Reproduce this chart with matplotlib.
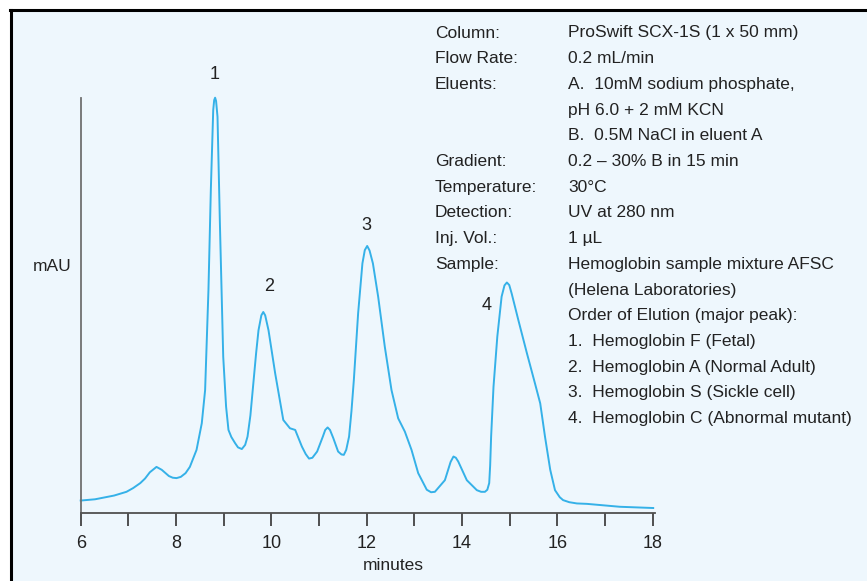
import matplotlib.pyplot as plt
from matplotlib.patches import Rectangle
from matplotlib.lines import Line2D

plt.rcParams['font.family'] = ['Liberation Sans', 'DejaVu Sans']

# chromatogram trace (minutes, relative mAU)
minutes = [6.00, 6.30, 6.70, 6.96, 7.10, 7.25, 7.35, 7.45, 7.59, 7.70, 7.85,
           7.93, 8.01, 8.10, 8.20, 8.29, 8.43, 8.54, 8.61, 8.68, 8.73, 8.78,
           8.80, 8.82, 8.84, 8.87, 8.92, 8.99, 9.05, 9.10, 9.16, 9.24, 9.30,
           9.38, 9.45, 9.50, 9.56, 9.62, 9.68, 9.73, 9.79, 9.83, 9.87, 9.94,
           10.08, 10.25, 10.39, 10.50, 10.64, 10.72, 10.79, 10.86, 10.96,
           11.08, 11.13, 11.18, 11.23, 11.30, 11.40, 11.47, 11.52, 11.57,
           11.63, 11.68, 11.73, 11.82, 11.91, 11.96, 12.01, 12.06, 12.13,
           12.24, 12.38, 12.52, 12.66, 12.80, 12.94, 13.08, 13.26, 13.35,
           13.43, 13.64, 13.76, 13.82, 13.87, 13.92, 14.10, 14.31, 14.40,
           14.48, 14.53, 14.57, 14.59, 14.61, 14.66, 14.74, 14.83, 14.89,
           14.94, 14.99, 15.04, 15.18, 15.36, 15.53, 15.64, 15.74, 15.85,
           15.95, 16.05, 16.12, 16.25, 16.41, 16.62, 17.31, 18.01]
mau = [3.0, 3.3, 4.2, 5.1, 6.0, 7.2, 8.3, 9.8, 11.1, 10.4, 8.9,
       8.5, 8.4, 8.7, 9.6, 11.1, 15.2, 21.6, 29.6, 53.7, 77.8, 97.0,
       99.4, 100.0, 99.2, 95.4, 69.8, 37.6, 25.6, 20.0, 18.3, 16.8, 15.8,
       15.4, 16.4, 18.4, 23.5, 31.0, 38.5, 44.0, 47.6, 48.4, 47.6, 44.0,
       33.6, 22.4, 20.4, 20.0, 16.0, 14.2, 13.1, 13.3, 14.8,
       18.4, 20.0, 20.6, 20.0, 18.0, 14.8, 14.1, 14.0, 15.2,
       18.4, 24.5, 32.0, 48.1, 60.1, 63.3, 64.3, 63.2, 60.1,
       52.1, 40.0, 29.6, 22.8, 19.6, 15.2, 9.6, 5.6, 5.0,
       5.1, 7.9, 12.3, 13.6, 13.3, 12.4, 7.9, 5.5, 5.1,
       5.1, 5.6, 7.2, 11.5, 18.4, 30.4, 42.5, 52.1, 54.8,
       55.5, 54.9, 52.9, 46.5, 38.5, 31.2, 26.4, 18.4, 10.4,
       5.5, 3.8, 3.1, 2.6, 2.3, 2.2, 1.5, 1.2]

peak_labels = ['1', '2', '3', '4']
peak_pos = [(8.82, 105.5), (9.96, 54.5), (12.00, 69.2), (14.52, 50.0)]

info_keys = ['Column:', 'Flow Rate:', 'Eluents:', '', '', 'Gradient:',
             'Temperature:', 'Detection:', 'Inj. Vol.:', 'Sample:', '', '',
             '', '', '', '']
info_vals = ['ProSwift SCX-1S (1 x 50 mm)', '0.2 mL/min',
             'A.  10mM sodium phosphate,', 'pH 6.0 + 2 mM KCN',
             'B.  0.5M NaCl in eluent A', '0.2 – 30% B in 15 min', '30°C',
             'UV at 280 nm', '1 µL', 'Hemoglobin sample mixture AFSC',
             '(Helena Laboratories)', 'Order of Elution (major peak):',
             '1.  Hemoglobin F (Fetal)', '2.  Hemoglobin A (Normal Adult)',
             '3.  Hemoglobin S (Sickle cell)', '4.  Hemoglobin C (Abnormal mutant)']

W, H = 867, 581
BG = '#eef7fd'
LINE = '#35b1e8'
FS = 12.5

fig = plt.figure(figsize=(W / 100, H / 100), dpi=100, facecolor='white')

# light panel with black top/left frame
fig.patches.append(Rectangle((11 / W, 0), 1, 1 - 10 / H, transform=fig.transFigure,
                             facecolor=BG, edgecolor='none', zorder=-5))
fig.lines.append(Line2D([10 / W, 1], [1 - 9.5 / H, 1 - 9.5 / H], transform=fig.transFigure,
                        color='black', lw=2.2, zorder=-4))
fig.lines.append(Line2D([11 / W, 11 / W], [0, 1 - 9.5 / H], transform=fig.transFigure,
                        color='black', lw=2.2, zorder=-4))

x0, x1 = 80.7, 655.1
y_bot, y_top = 513.0, 97.7
ax = fig.add_axes([x0 / W, 1 - y_bot / H, (x1 - x0) / W, (y_bot - y_top) / H])
ax.patch.set_visible(False)
ax.plot(minutes, mau, color=LINE, lw=1.4, solid_joinstyle='round', clip_on=False)
ax.set_xlim(6, 18.05)
ax.set_ylim(0, 100)

for s in ['top', 'right']:
    ax.spines[s].set_visible(False)
ax.spines['left'].set_color('#707070')
ax.spines['left'].set_linewidth(1.3)
ax.spines['bottom'].set_color('#505050')
ax.spines['bottom'].set_linewidth(1.3)

ax.set_yticks([])
ax.set_xticks(range(6, 19))
ax.set_xticklabels([str(t) if t % 2 == 0 else '' for t in range(6, 19)], fontsize=FS + 0.5)
ax.tick_params(axis='x', direction='out', length=9, width=1.2, color='#333333',
               pad=6.5, labelcolor='#222222')

for lab, (px, py) in zip(peak_labels, peak_pos):
    ax.text(px, py, lab, ha='center', va='center', fontsize=FS + 0.5, color='#222222',
            clip_on=False)

fig.text(52.5 / W, 1 - 266.5 / H, 'mAU', ha='center', va='center', fontsize=FS, color='#222222')
fig.text(393 / W, 1 - 565 / H, 'minutes', ha='center', va='center', fontsize=FS, color='#222222')

for i, (k, v) in enumerate(zip(info_keys, info_vals)):
    y = 1 - (33 + i * 25.7) / H
    if k:
        fig.text(435 / W, y, k, ha='left', va='center', fontsize=FS, color='#222222')
    fig.text(568 / W, y, v, ha='left', va='center', fontsize=FS, color='#222222')

fig.savefig('out.png', dpi=100, facecolor='white')
